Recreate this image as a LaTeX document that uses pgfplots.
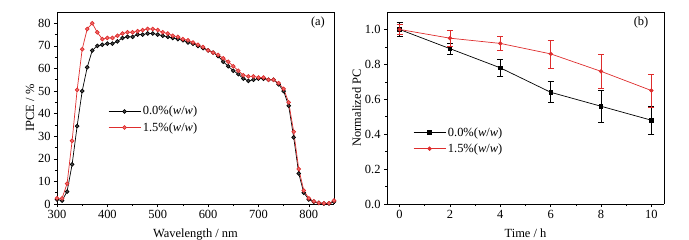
\documentclass[border=0pt]{standalone}
\usepackage{fontspec}
\setmainfont{Liberation Serif}
\usepackage{pgfplots}
\pgfplotsset{compat=1.18}
\definecolor{myred}{RGB}{222,45,45}
\definecolor{myredfill}{RGB}{240,110,110}
\begin{document}
\begin{tikzpicture}
\path[use as bounding box] (0,0) rectangle (689bp,240bp);
\pgfplotsset{
  every axis/.append style={
    scale only axis, width=277bp, height=192bp,
    axis lines*=left,
    tick align=outside,
    tick style={black, line width=0.6pt},
    major tick length=3bp, minor tick length=2bp,
    axis line style={line width=0.7pt},
    font=\fontsize{12.5}{13}\selectfont,
    tick label style={font=\fontsize{12.5}{13}\selectfont},
    label style={font=\fontsize{12.5}{13}\selectfont},
    /pgf/number format/assume math mode=true,
    legend style={draw=none, fill=none, font=\fontsize{12.5}{13}\selectfont, row sep=2bp, inner sep=0pt},
    legend cell align=left,
    legend image code/.code={\draw[mark repeat=2,mark phase=2] plot coordinates {(0bp,0bp)(16bp,0bp)(32bp,0bp)};},
  }
}
% Panel (a)
\begin{axis}[
  at={(57bp,36bp)}, anchor=south west,
  xmin=300, xmax=850, ymin=0, ymax=85,
  xtick={300,400,...,800}, ytick={0,10,...,80},
  minor x tick num=1, minor y tick num=1,
  xlabel={Wavelength / nm}, ylabel={IPCE / \%},
  xlabel style={yshift=-3bp}, ylabel style={yshift=-3bp},
  legend style={at={(0.184,0.52)}, anchor=north west},
  clip=false,
]
\draw[line width=0.7pt] (rel axis cs:0,1) -- (rel axis cs:1,1) -- (rel axis cs:1,0);
\addplot[black, line width=0.7pt, mark=*, mark size=1.9pt, mark options={fill=black!70}] coordinates {
(300,2)(310,1.5)(320,5.5)(330,17.5)(340,34.5)(350,50)(360,60.5)(370,68)(380,70)(390,70.5)
(400,71)(410,71)(420,72)(430,73.5)(440,74)(450,74)(460,75)(470,75)(480,75.5)(490,75.5)
(500,75)(510,74.5)(520,74)(530,73.5)(540,73)(550,72.5)(560,71.5)(570,71)(580,70)(590,69)
(600,68)(610,67)(620,65.5)(630,63)(640,61)(650,59)(660,57.5)(670,55.5)(680,54.5)(690,55)
(700,55.5)(710,55.5)(720,55)(730,55)(740,53)(750,50)(760,43.5)(770,29.5)(780,13.5)(790,5)
(800,2)(810,1)(820,0.5)(830,0.2)(840,0.2)(850,1)};
\addlegendentry{0.0\%(\textit{w}/\textit{w})}
\addplot[myred, line width=0.7pt, mark=*, mark size=1.9pt, mark options={fill=myredfill}] coordinates {
(300,2.5)(310,2.5)(320,9)(330,28)(340,50.5)(350,68.5)(360,77.5)(370,80)(380,76)(390,73)
(400,73.5)(410,73.5)(420,74.5)(430,75.5)(440,76)(450,76)(460,76.5)(470,77)(480,77.5)(490,77.5)
(500,77)(510,76)(520,75.5)(530,74.5)(540,74)(550,73)(560,72.5)(570,71.5)(580,70.5)(590,69.5)
(600,68)(610,67)(620,66)(630,64.5)(640,63)(650,61)(660,59)(670,57)(680,56.5)(690,56.5)
(700,56)(710,56)(720,55)(730,55)(740,53.5)(750,51)(760,45)(770,32)(780,15.5)(790,6)
(800,2.5)(810,1.2)(820,0.5)(830,0.3)(840,0.3)(850,1.5)};
\addlegendentry{1.5\%(\textit{w}/\textit{w})}
\node at (rel axis cs:0.942,0.943) {(a)};
\end{axis}
% Panel (b)
\begin{axis}[
  at={(387bp,36bp)}, anchor=south west,
  xmin=-0.5, xmax=10.5, ymin=0, ymax=1.1,
  xtick={0,2,...,10}, ytick={0,0.2,...,1.0},
  yticklabel style={/pgf/number format/.cd, fixed, fixed zerofill, precision=1},
  minor x tick num=1, minor y tick num=1,
  xlabel={Time / h}, ylabel={Normalized PC},
  xlabel style={yshift=-3bp}, ylabel style={yshift=-3bp},
  legend style={at={(0.094,0.41)}, anchor=north west},
  clip=false,
]
\draw[line width=0.7pt] (rel axis cs:0,1) -- (rel axis cs:1,1) -- (rel axis cs:1,0);
\addplot[black, line width=0.7pt, mark=square*, mark size=1.8pt,
  error bars/.cd, y dir=both, y explicit, error mark options={rotate=90, mark size=3bp, line width=0.7pt}, error bar style={line width=0.7pt}]
  coordinates {
(0,1.0) +- (0,0.04)
(2,0.89) +- (0,0.03)
(4,0.78) +- (0,0.05)
(6,0.64) +- (0,0.06)
(8,0.56) +- (0,0.09)
(10,0.48) +- (0,0.08)};
\addlegendentry{0.0\%(\textit{w}/\textit{w})}
\addplot[myred, line width=0.7pt, mark=*, mark size=1.8pt,
  error bars/.cd, y dir=both, y explicit, error mark options={rotate=90, mark size=3bp, line width=0.7pt}, error bar style={line width=0.7pt}]
  coordinates {
(0,1.0) +- (0,0.03)
(2,0.95) +- (0,0.045)
(4,0.92) +- (0,0.04)
(6,0.86) +- (0,0.08)
(8,0.76) +- (0,0.10)
(10,0.65) +- (0,0.095)};
\addlegendentry{1.5\%(\textit{w}/\textit{w})}
\node at (rel axis cs:0.917,0.943) {(b)};
\end{axis}
\end{tikzpicture}
\end{document}
